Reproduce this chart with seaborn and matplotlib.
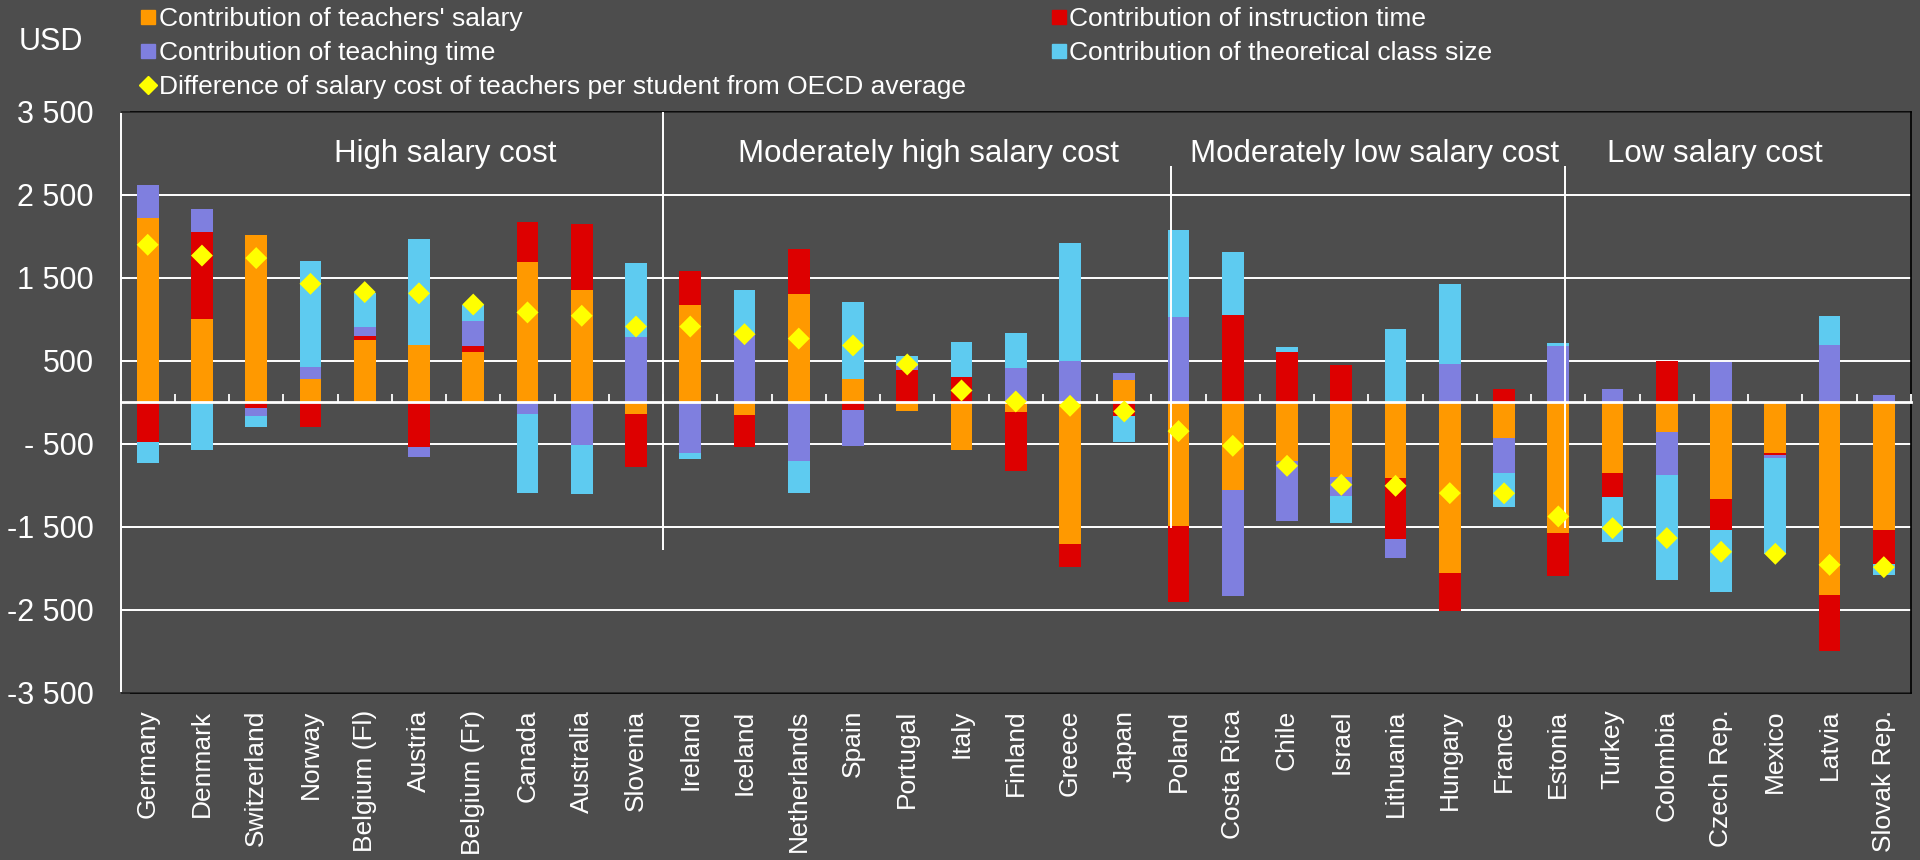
import numpy as np
import pandas as pd
import matplotlib
matplotlib.use("Agg")
import matplotlib.pyplot as plt
import seaborn as sns
from matplotlib.lines import Line2D

# ---------------- data ----------------
countries = ["Germany", "Denmark", "Switzerland", "Norway", "Belgium (Fl)", "Austria",
             "Belgium (Fr)", "Canada", "Australia", "Slovenia", "Ireland", "Iceland",
             "Netherlands", "Spain", "Portugal", "Italy", "Finland", "Greece", "Japan",
             "Poland", "Costa Rica", "Chile", "Israel", "Lithuania", "Hungary", "France",
             "Estonia", "Turkey", "Colombia", "Czech Rep.", "Mexico", "Latvia", "Slovak Rep."]

salary = [2220, 1010, 2020, 280, 755, 690, 605, 1690, 1360, -137,
          1170, -153, 1310, 280, -104, -578, -120, -1700, 269,
          -1490, -1052, -711, -900, -912, -2052, -430, -1574,
          -847, -353, -1161, -610, -2325, -1538]
instruction = [-480, 1040, -65, -290, 40, -540, 70, 480, 785, -635,
               410, -385, 535, -88, 394, 309, -703, -280, -160,
               -915, 1056, 614, 446, -727, -458, 161, -522,
               -286, 494, -373, -24, -672, -406]
teaching = [400, 280, -95, 150, 115, -120, 310, -140, -510, 783,
            -610, 835, -700, -442, 40, 0, 410, 494, 84,
            1032, -1280, -720, -224, -236, 458, -417, 683,
            157, -518, 482, -37, 691, 96]
class_size = [-250, -570, -130, 1275, 415, 1275, 185, -945, -595, 895,
              -65, 518, -385, 930, 120, 414, 425, 1430, -313,
              1048, 755, 57, -324, 888, 972, -409, 28,
              -550, -1270, -755, -1152, 349, -140]
difference = [1900, 1770, 1740, 1430, 1330, 1315, 1180, 1085, 1045, 915,
              915, 823, 770, 687, 458, 145, 12, -40, -108,
              -345, -522, -763, -992, -1004, -1092, -1094, -1373,
              -1514, -1634, -1799, -1823, -1956, -1984]

series_names = ["Contribution of teachers' salary", "Contribution of instruction time",
                "Contribution of teaching time", "Contribution of theoretical class size"]
diff_name = "Difference of salary cost of teachers per student from OECD average"

group_labels = ["High salary cost", "Moderately high salary cost",
                "Moderately low salary cost", "Low salary cost"]
group_label_x = [5.49, 14.4, 22.61, 28.89]
divider_x = [9.5, 18.86, 26.12]
divider_top = [3500, 2850, 2850]
divider_bottom = [-1775, -1510, -1510]

ytick_values = [-3500, -2500, -1500, -500, 500, 1500, 2500, 3500]
ytick_labels = ["-3 500", "-2 500", "-1 500", "- 500", "500", "1 500", "2 500", "3 500"]

# ---------------- style ----------------
BG = "#4d4d4d"
colors = ["#ff9900", "#dd0000", "#7f7fdf", "#5ecbf0"]
DIAMOND = "#ffff00"

sns.set_style("dark")
plt.rcParams["font.family"] = ["Liberation Sans", "DejaVu Sans"]

df = pd.DataFrame({
    "country": countries,
    "pos": np.arange(len(countries)),
    series_names[0]: salary,
    series_names[1]: instruction,
    series_names[2]: teaching,
    series_names[3]: class_size,
    "diff": difference,
})

fig = plt.figure(figsize=(19.2, 8.6), dpi=100, facecolor=BG)
ax = fig.add_axes([0.0628, 0.1942, 0.9325, 0.6756])
ax.set_facecolor(BG)

n = len(countries)
x = df["pos"].to_numpy()
pos_bottom = np.zeros(n)
neg_bottom = np.zeros(n)
for name, col in zip(series_names, colors):
    vals = df[name].to_numpy(dtype=float)
    bottoms = np.where(vals >= 0, pos_bottom, neg_bottom)
    ax.bar(x, vals, bottom=bottoms, width=0.4, color=col, linewidth=0, zorder=2)
    pos_bottom += np.clip(vals, 0, None)
    neg_bottom += np.clip(vals, None, 0)

sns.scatterplot(data=df, x="pos", y="diff", marker="D", s=125, color=DIAMOND,
                edgecolor="none", linewidth=0, zorder=6, ax=ax, legend=False)

ax.set_xlim(-0.5, n - 0.5)
ax.set_ylim(-3500, 3500)

# group dividers and labels
ax.vlines(divider_x, divider_bottom, divider_top, color="white", lw=1.4, zorder=4)
for gx, gl in zip(group_label_x, group_labels):
    ax.text(gx, 2900, gl, ha="center", va="baseline", color="white", fontsize=22.5, zorder=7)

# y axis
ax.set_yticks(ytick_values, ytick_labels)
ax.grid(axis="y", color="white", lw=1.4, zorder=0)
ax.grid(axis="x", visible=False)
ax.set_axisbelow(True)
ax.tick_params(axis="y", direction="in", length=6.5, width=1.3, color="white",
               labelcolor="white", labelsize=22, pad=19.5, left=True)

# x axis (labels at bottom)
ax.set_xticks(x, countries, rotation=90)
ax.tick_params(axis="x", length=0, pad=12, labelsize=19, labelcolor="white")
ax.set_xlabel("")
ax.set_ylabel("")

for s in ["top", "bottom", "right"]:
    ax.spines[s].set_visible(True)
    ax.spines[s].set_color("black")
    ax.spines[s].set_linewidth(1.2)
ax.spines["left"].set_visible(True)
ax.spines["left"].set_color("white")
ax.spines["left"].set_linewidth(1.4)

# zero axis line with category boundary ticks
sec = ax.secondary_xaxis(0, transform=ax.transData)
sec.set_xticks(np.arange(-0.5, n, 1.0))
sec.tick_params(direction="in", length=5.5, width=1.3, color="white",
                labelbottom=False, labeltop=False)
sec.spines["bottom"].set_color("white")
sec.spines["bottom"].set_linewidth(2)
sec.set_zorder(3)

# legend
handles = {}
for name, col in zip(series_names, colors):
    handles[name] = Line2D([], [], ls="none", marker="s", ms=9.4, mfc=col, mec=col)
handles[diff_name] = Line2D([], [], ls="none", marker="D", ms=9, mfc=DIAMOND, mec=DIAMOND)
order = [series_names[0], series_names[2], diff_name, series_names[1], series_names[3]]
fig.legend([handles[k] for k in order], order, ncol=2, loc="upper left",
           bbox_to_anchor=(0.073, 0.992), frameon=False, fontsize=19,
           handlelength=0.6, handletextpad=0.1, columnspacing=3.23,
           labelspacing=0.38, borderpad=0, borderaxespad=0, labelcolor="white")

fig.text(0.0266, 0.951, "USD", ha="center", va="center", fontsize=22, color="white")

fig.savefig("out.png", dpi=100, facecolor=BG)
